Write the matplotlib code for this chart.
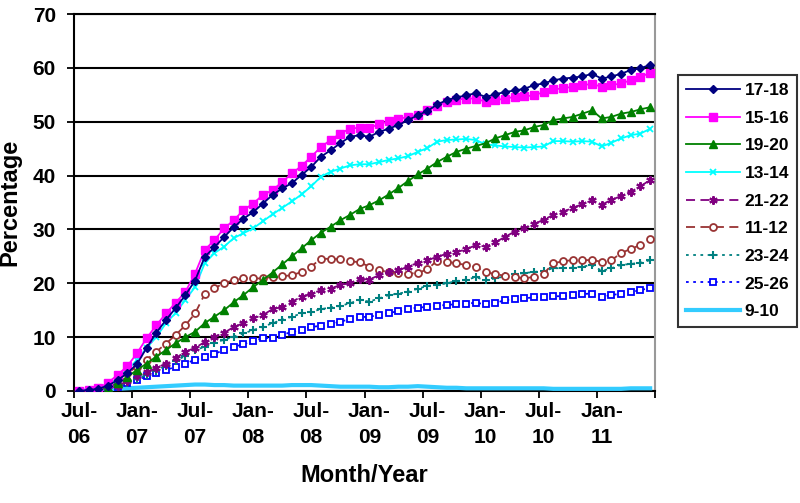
import matplotlib
matplotlib.use("Agg")
import matplotlib.pyplot as plt
import pandas as pd

plt.rcParams['font.family'] = ['Liberation Sans', 'DejaVu Sans']
plt.rcParams['font.weight'] = 'bold'

# Monthly categories Jul-06 .. Jun-11
months = pd.date_range('2006-07-01', periods=60, freq='MS')
tick_labels = ["Jul-\n06", "Jan-\n07", "Jul-\n07", "Jan-\n08", "Jul-\n08",
               "Jan-\n09", "Jul-\n09", "Jan-\n10", "Jul-\n10", "Jan-\n11"]

s17_18 = [0, 0.2, 0.4, 1, 2, 3.3, 5, 8, 10.8, 13.2, 15.4, 17.8, 20.5, 24.9, 26.7,
          28.6, 30.4, 32, 33.2, 34.8, 36.4, 37.6, 38.6, 40.1, 41.6, 43.5, 44.7, 46,
          47.2, 47.5, 47.2, 48.1, 48.7, 49.4, 50.3, 51.2, 52, 53.2, 54, 54.5, 54.9,
          55.3, 54.6, 55.1, 55.5, 55.8, 56.1, 56.8, 57.1, 57.7, 58, 58.2, 58.4, 58.9,
          58, 58.4, 58.9, 59.6, 59.9, 60.6]
s15_16 = [0, 0.2, 0.5, 1.5, 3, 4.6, 7, 9.8, 12.2, 14.4, 16.4, 18.4, 21.8, 26.2, 28,
          30.2, 31.7, 33.6, 34.8, 36.4, 37.3, 38.8, 40.4, 41.8, 43.5, 45.3, 46.6, 47.8,
          48.7, 48.9, 48.9, 49.5, 50.1, 50.5, 50.9, 51.3, 52.1, 52.9, 53.7, 54.1, 54.3,
          54.3, 53.7, 54, 54.3, 54.6, 54.7, 54.9, 55.5, 56, 56.2, 56.5, 56.8, 57,
          56.5, 56.8, 57.1, 57.7, 58.3, 59.1]
s19_20 = [0, 0, 0.2, 0.6, 1.5, 2.6, 3.9, 5.1, 6.4, 7.6, 8.9, 10, 11, 12.6, 13.8,
          15, 16.5, 17.8, 19.3, 20.6, 22, 23.5, 25, 26.5, 28, 29.4, 30.5, 31.7,
          32.7, 33.8, 34.5, 35.4, 36.5, 37.7, 39, 40.2, 41.3, 42.5, 43.5, 44.4, 45,
          45.5, 46, 46.9, 47.5, 48.1, 48.4, 49, 49.4, 50.3, 50.6, 50.9, 51.5, 52.1,
          50.6, 50.9, 51.5, 51.8, 52.3, 52.7]
s13_14 = [0, 0.1, 0.3, 1, 2.3, 3.9, 5.7, 8, 10, 12.6, 14.5, 16.9, 19.3, 23.7, 25.6,
          26.8, 28.4, 29.3, 30.2, 31.5, 32.8, 34, 35.2, 36.5, 38, 39.8, 40.7, 41.3,
          41.9, 42.1, 42.1, 42.5, 42.9, 43.2, 43.6, 44.4, 45.1, 46.3, 46.6, 46.7, 46.8,
          46.6, 45.8, 45.6, 45.4, 45.3, 45.2, 45.3, 45.4, 46.4, 46.4, 46.3, 46.4, 46.3,
          45.4, 46.1, 46.9, 47.5, 47.8, 48.7]
s21_22 = [0, 0, 0.1, 0.4, 1, 1.8, 2.7, 3.5, 4.3, 5.1, 6.1, 7.3, 8, 9.1, 10.1,
          10.8, 11.9, 12.6, 13.5, 14.1, 15.2, 15.6, 16.6, 17.5, 18.1, 18.7, 19, 19.7,
          20, 20.8, 20.7, 21.5, 22.1, 22.4, 23.1, 23.8, 24.3, 24.9, 25.5, 25.8, 26.3,
          27.1, 26.8, 27.6, 28.6, 29.6, 30.2, 31, 31.8, 32.7, 33.3, 34, 34.7, 35.4,
          34.6, 35.5, 36.2, 37, 38, 39.2]
s11_12 = [0, 0.1, 0.4, 1.2, 2.2, 3.3, 4.5, 5.8, 7.3, 8.8, 10.4, 12.2, 14.4, 18, 19.1,
          20, 20.6, 20.9, 20.9, 20.9, 21.2, 21.3, 21.5, 22.1, 23.1, 24.6, 24.5, 24.5,
          24.1, 23.9, 23.1, 22.4, 22.1, 22, 21.8, 21.9, 22.6, 24.2, 24, 23.7, 23.4,
          23, 22.1, 21.7, 21.4, 21.2, 20.9, 21.2, 21.8, 23.7, 24.1, 24.3, 24.3, 24.3,
          24, 24.3, 25.6, 26.4, 27.1, 28.3]
s23_24 = [0, 0, 0.1, 0.3, 0.8, 1.5, 2.3, 3, 3.8, 4.7, 5.6, 6.5, 7.6, 8.2, 9,
          9.5, 10.1, 10.7, 11.3, 11.9, 12.6, 13.2, 13.8, 14.4, 14.7, 15.2, 15.5, 15.8,
          16.3, 16.9, 16.6, 17.2, 17.8, 18.1, 18.4, 19, 19.5, 19.7, 20, 20.4, 20.7,
          21.1, 20.6, 20.9, 21.3, 21.7, 21.9, 22.1, 22.3, 22.8, 22.8, 22.9, 23.1, 23.4,
          22.3, 22.8, 23.4, 23.6, 23.8, 24.3]
s25_26 = [0, 0, 0.1, 0.3, 0.7, 1.4, 2, 2.7, 3.3, 3.9, 4.5, 5.1, 5.8, 6.4, 6.9,
          7.6, 8.2, 8.7, 9.3, 9.8, 9.9, 10.4, 11, 11.3, 11.9, 12.1, 12.4, 12.9,
          13.3, 13.7, 13.8, 14.1, 14.5, 14.8, 15.2, 15.5, 15.6, 15.8, 16, 16.1, 16.2,
          16.4, 16.1, 16.3, 16.9, 17, 17.2, 17.4, 17.5, 17.6, 17.6, 17.8, 18, 18.1,
          17.5, 17.8, 18.1, 18.4, 18.7, 19.2]
s9_10 = [0, 0.1, 0.2, 0.3, 0.4, 0.5, 0.6, 0.7, 0.8, 0.9, 1, 1.1, 1.2, 1.2, 1.1,
         1.1, 1.0, 1.0, 1.0, 1.0, 1.0, 1.0, 1.1, 1.1, 1.1, 1.0, 0.9, 0.8,
         0.8, 0.8, 0.8, 0.7, 0.7, 0.8, 0.8, 0.9, 0.8, 0.7, 0.6, 0.6, 0.5,
         0.5, 0.5, 0.5, 0.5, 0.5, 0.5, 0.5, 0.5, 0.4, 0.4, 0.4, 0.4, 0.4,
         0.4, 0.4, 0.4, 0.5, 0.5, 0.5]

series_names = ["17-18", "15-16", "19-20", "13-14", "21-22", "11-12", "23-24", "25-26", "9-10"]
series_values = [s17_18, s15_16, s19_20, s13_14, s21_22, s11_12, s23_24, s25_26, s9_10]

styles = [
    dict(color='#000080', marker='D', ms=4.5, ls='-', lw=1.3, mfc='#000080'),
    dict(color='#FF00FF', marker='s', ms=5.5, ls='-', lw=1.3, mfc='#FF00FF'),
    dict(color='#008000', marker='^', ms=6, ls='-', lw=1.3, mfc='#008000'),
    dict(color='#00FFFF', marker='x', ms=5, ls='-', lw=1.3, mew=1.3),
    dict(color='#800080', marker=(6, 2, 0), ms=6, ls=(0, (5, 3)), lw=1.3, mew=1.5),
    dict(color='#993333', marker='o', ms=5, ls=(0, (5, 3)), lw=1.3, mfc='white', mew=1.3),
    dict(color='#008080', marker='+', ms=5.5, ls=(0, (1.5, 2.5)), lw=1.3, mew=1.5),
    dict(color='#0000FF', marker='s', ms=5, ls=(0, (1.5, 2.5)), lw=1.3, mfc='white', mew=1.3),
    dict(color='#33CCFF', marker=None, ls='-', lw=3),
]

fig = plt.figure(figsize=(8.0, 5.03), dpi=100)
ax = fig.add_axes([74/800, 1-391/503, (655-74)/800, (391-14)/503])

n = len(months)
xpos = [i + 0.5 for i in range(n)]
handles = []
for name, vals, st in reversed(list(zip(series_names, series_values, styles))):
    h, = ax.plot(xpos, vals, label=name, zorder=3, **st)
    handles.append(h)
handles = handles[::-1]

ax.set_xlim(0, n)
ax.set_ylim(0, 70)
ax.set_yticks(range(0, 71, 10))
ax.yaxis.grid(True, color='black', lw=1.5, zorder=1)
ax.set_axisbelow(True)

ax.set_xticks(range(0, n + 1, 6))
ax.set_xticklabels([])
ax.set_xticks([i + 0.5 for i in range(0, n, 6)], minor=True)
ax.set_xticklabels(tick_labels, minor=True, fontsize=15, fontweight='bold', linespacing=1.45)
ax.tick_params(axis='x', which='major', direction='out', length=5, width=1.3, color='black')
ax.tick_params(axis='x', which='minor', length=0, pad=8)
ax.tick_params(axis='y', direction='out', length=5, width=1.3, labelsize=15, pad=8)
for lab in ax.get_yticklabels():
    lab.set_fontweight('bold')

for side in ['left', 'bottom']:
    ax.spines[side].set_color('black')
    ax.spines[side].set_linewidth(1.5)
ax.spines['top'].set_color('black')
ax.spines['top'].set_linewidth(1.5)
ax.spines['right'].set_color('#999999')
ax.spines['right'].set_linewidth(1.5)

ax.set_ylabel('Percentage', fontsize=17, fontweight='bold', labelpad=8)
ax.set_xlabel('Month/Year', fontsize=17, fontweight='bold', labelpad=12)

leg = fig.legend(handles=handles, labels=series_names, loc='upper left',
                 bbox_to_anchor=(678/800, 1-75/503), bbox_transform=fig.transFigure,
                 borderaxespad=0, prop={'weight': 'bold', 'size': 12.5},
                 frameon=True, fancybox=False, handlelength=3.1, handletextpad=0.3,
                 labelspacing=0.72, borderpad=0.45)
leg.get_frame().set_edgecolor('black')
leg.get_frame().set_linewidth(1.5)

fig.savefig('out.png', dpi=100)
